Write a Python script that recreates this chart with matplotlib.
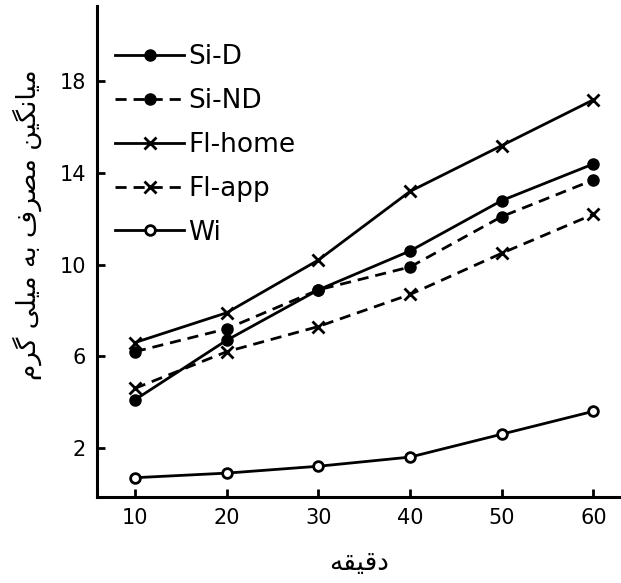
import matplotlib
matplotlib.use("Agg")
from matplotlib import pyplot as plt

minutes = [10, 20, 30, 40, 50, 60]
si_d = [4.1, 6.7, 8.9, 10.6, 12.8, 14.4]
si_nd = [6.2, 7.2, 8.9, 9.9, 12.1, 13.7]
fl_home = [6.6, 7.9, 10.2, 13.2, 15.2, 17.2]
fl_app = [4.6, 6.2, 7.3, 8.7, 10.5, 12.2]
wi = [0.7, 0.9, 1.2, 1.6, 2.6, 3.6]
y_ticks = [2, 6, 10, 14, 18]

# Persian labels written in shaped presentation forms, visual order
x_label = "\uFEEA\uFED8\uFEF4\uFED7\uFEA9"  # دقیقه
y_label = ("\uFEE1\uFEAE\uFB94 \uFEF0\uFEE0\uFEF4\uFEE3 \uFEEA\uFE91 "
           "\uFED1\uFEAE\uFEBC\uFEE3 \uFEE6\uFEF4\uFB95\uFEE7\uFE8E\uFEF4\uFEE3")  # میانگین مصرف به میلی گرم

plt.rcParams['font.family'] = ['DejaVu Sans']

fig = plt.figure(figsize=(6.21, 5.83), dpi=100)
ax = fig.add_axes([0.156, 0.148, 0.844, 0.842])

dash = (0, (4, 2.5))
ax.plot(minutes, si_d, color='black', lw=2, marker='o', ms=8, label='Si-D')
ax.plot(minutes, si_nd, color='black', lw=2, ls=dash, marker='o', ms=8, label='Si-ND')
ax.plot(minutes, fl_home, color='black', lw=2, marker='x', ms=8, mew=2, label='Fl-home')
ax.plot(minutes, fl_app, color='black', lw=2, ls=dash, marker='x', ms=8, mew=2, label='Fl-app')
ax.plot(minutes, wi, color='black', lw=2, marker='o', ms=7, mfc='white', mew=2, label='Wi')

ax.set_xlim(5.85, 63)
ax.set_ylim(-0.13, 21.3)
ax.set_xticks(minutes)
ax.set_yticks(y_ticks)
ax.tick_params(direction='in', length=6, width=2, labelsize=15, pad=8)
for side in ['top', 'right']:
    ax.spines[side].set_visible(False)
for side in ['left', 'bottom']:
    ax.spines[side].set_linewidth(2.2)

ax.set_xlabel(x_label, fontsize=19, labelpad=16)
ax.set_ylabel(y_label, fontsize=19)
ax.yaxis.set_label_coords(-0.105, 0.555)

ax.legend(loc='upper left', bbox_to_anchor=(0.0, 0.96), frameon=False,
          fontsize=19, handlelength=2.6, labelspacing=0.68, handletextpad=0.15,
          borderaxespad=0.3)

fig.savefig("out.png", dpi=100)
